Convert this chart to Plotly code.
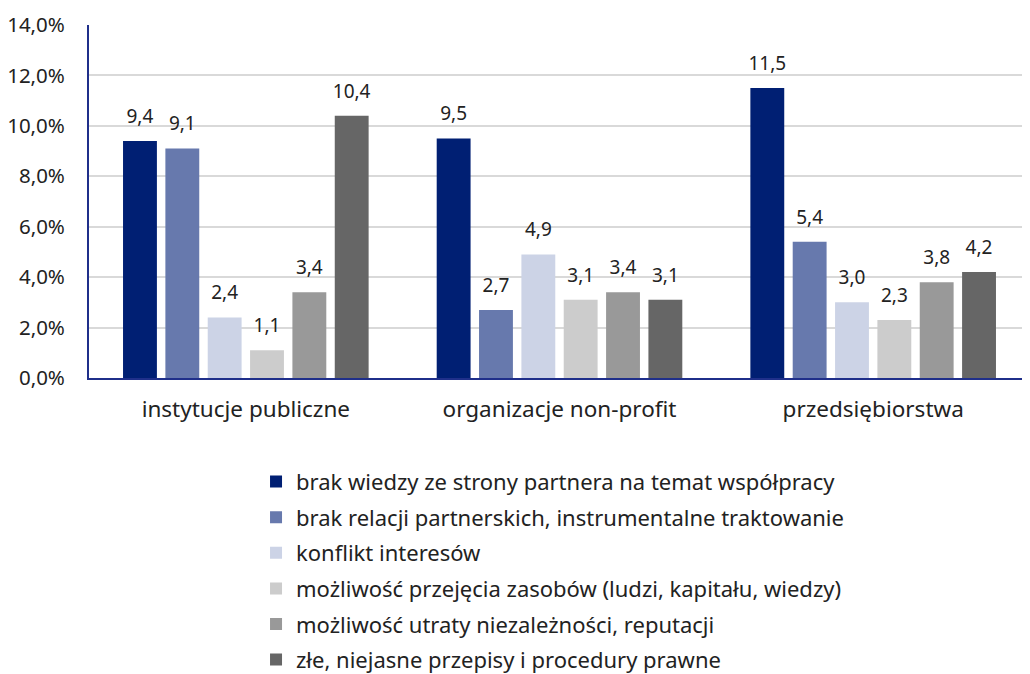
import plotly.graph_objects as go

categories = ["instytucje publiczne", "organizacje non-profit", "przedsiębiorstwa"]
series_names = [
    "brak wiedzy ze strony partnera na temat współpracy",
    "brak relacji partnerskich, instrumentalne traktowanie",
    "konflikt interesów",
    "możliwość przejęcia zasobów (ludzi, kapitału, wiedzy)",
    "możliwość utraty niezależności, reputacji",
    "złe, niejasne przepisy i procedury prawne",
]
values = [
    [9.4, 9.5, 11.5],
    [9.1, 2.7, 5.4],
    [2.4, 4.9, 3.0],
    [1.1, 3.1, 2.3],
    [3.4, 3.4, 3.8],
    [10.4, 3.1, 4.2],
]
colors = ["#001F73", "#6779AD", "#CCD3E6", "#CCCCCC", "#999999", "#666666"]

LABEL_PAD = 0.36  # extra space (in axis units) between bar top and its value label

FONT = "Noto Sans"
fig = go.Figure()
for i, (name, vals) in enumerate(zip(series_names, values)):
    fig.add_trace(go.Bar(
        x=categories, y=vals, name=name,
        marker=dict(color=colors[i], line=dict(width=0)),
        offsetgroup=str(i),
        legendgroup=f"g{i}",
        hovertemplate="%{y:.1f}<extra>" + name + "</extra>",
    ))
for i, (name, vals) in enumerate(zip(series_names, values)):
    fig.add_trace(go.Bar(
        x=categories, y=[v + LABEL_PAD for v in vals],
        marker=dict(color="rgba(0,0,0,0)", line=dict(width=0)),
        offsetgroup=str(i),
        legendgroup=f"g{i}",
        showlegend=False, hoverinfo="skip",
        text=[f"{v:.1f}".replace(".", ",") for v in vals],
        textposition="outside",
        constraintext="none",
        textfont=dict(size=19, color="#222222", family=FONT),
        cliponaxis=False,
    ))

fig.update_layout(
    width=1022, height=666,
    margin=dict(l=81, r=0, t=17, b=296, autoexpand=False),
    paper_bgcolor="white", plot_bgcolor="white",
    barmode="group", bargap=0.19, bargroupgap=0.2,
    separators=", ",
    font=dict(family=FONT, size=18, color="#222222"),
    showlegend=True,
    legend=dict(
        x=0.1775, y=-0.2345, xanchor="left", yanchor="top",
        orientation="v", traceorder="grouped", tracegroupgap=4,
        font=dict(size=22, family=FONT, color="#222222"),
        itemwidth=30,
    ),
    yaxis=dict(
        range=[0, 14], dtick=2, tickformat=".1f", ticksuffix="%",
        showgrid=True, gridcolor="#D9D9D9", gridwidth=1.5,
        showline=True, linecolor="#1F2F8A", linewidth=2,
        zeroline=False, ticks="", tickfont=dict(size=20.5),
        automargin=False, ticklabelstandoff=18,
    ),
    xaxis=dict(
        showline=True, linecolor="#1F2F8A", linewidth=2,
        ticks="", tickfont=dict(size=22.5), showgrid=False,
        automargin=False, ticklabelstandoff=10,
    ),
)

fig.write_html("out.html")
